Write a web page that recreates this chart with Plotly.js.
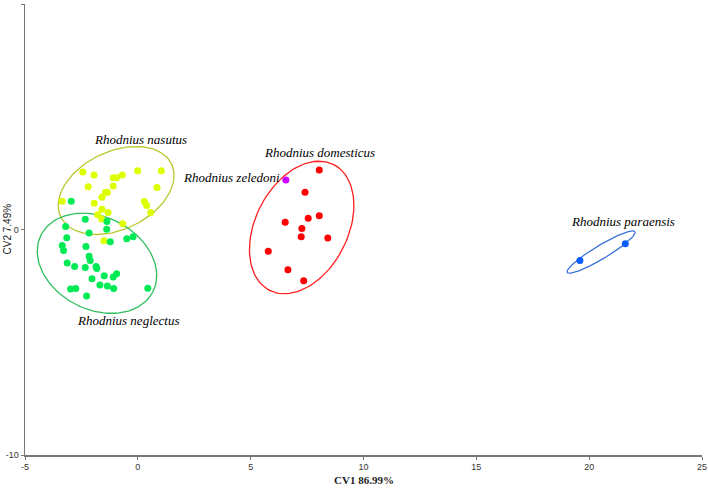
<!DOCTYPE html>
<html>
<head>
<meta charset="utf-8">
<script src="https://cdn.plot.ly/plotly-3.0.1.min.js"></script>
<style>html,body{margin:0;padding:0;background:#fff;}#chart{width:708px;height:488px;}</style>
</head>
<body>
<div id="chart"></div>
<script>
// ---- Data ----
const nasutusX = [-2.44,-1.94,-1.09,-0.94,-0.69,-0.01,1.04,-2.20,-1.09,0.85,-1.35,-1.44,-1.59,-3.35,-1.93,0.29,0.39,-1.59,-1.32,0.57,-1.78,-1.60,-0.67,-1.50];
const nasutusY = [2.55,2.42,2.29,2.29,2.42,2.60,2.60,1.90,1.93,1.86,1.65,1.64,1.43,1.25,1.16,1.24,1.06,0.90,0.75,0.75,0.65,0.47,0.25,-0.50];

const neglectusX = [-2.95,-2.33,-1.37,-3.20,-1.38,-2.16,-0.49,-0.21,-1.22,-3.15,-3.35,-3.29,-2.30,-2.16,-2.11,-3.13,-2.80,-2.33,-1.85,-1.82,-0.94,-1.09,-1.49,-2.03,-1.68,-1.35,-1.07,-2.98,-2.75,0.44,-2.27];
const neglectusY = [1.25,0.46,0.35,0.13,0.01,-0.16,-0.41,-0.32,-0.54,-0.37,-0.71,-0.93,-0.75,-1.19,-1.38,-1.49,-1.64,-1.68,-1.64,-1.73,-1.96,-2.11,-2.05,-2.18,-2.46,-2.51,-2.62,-2.64,-2.62,-2.60,-2.95];

const domesticusX = [8.04,7.41,6.53,7.55,8.04,7.27,7.24,8.42,5.78,6.65,7.35];
const domesticusY = [2.64,1.65,0.32,0.50,0.61,0.04,-0.32,-0.38,-0.96,-1.78,-2.27];

const zeledoniX = [6.56];
const zeledoniY = [2.20];

const paraensisX = [19.59,21.60];
const paraensisY = [-1.38,-0.63];

// Ellipses: nasutus, neglectus, domesticus, paraensis
const ellipseCx = [-0.96,-1.81,7.26,20.53];
const ellipseCy = [1.73,-1.50,0.09,-1.00];
const ellipseA = [2.72,2.78,3.13,1.75];
const ellipseB = [1.73,2.05,2.05,0.30];
const ellipseAngle = [25.5,-27,63,31];
const ellipseColors = ['#b9c62c','#2fbf5c','#ff1e1e','#3d74d9'];

// Labels
const labelText = ['Rhodnius nasutus','Rhodnius neglectus','Rhodnius domesticus','Rhodnius zeledoni','Rhodnius paraensis'];
const labelX = [0.10,-0.44,8.04,6.37,21.51];
const labelY = [3.98,-4.03,3.42,2.29,0.37];
const labelAnchor = ['center','center','center','right','center'];

const xTicks = [-5,0,5,10,15,20,25];
const yTicks = [-10,0,10];

// ---- Build traces ----
function ellipsePts(cx, cy, a, b, angDeg) {
  const t = angDeg * Math.PI / 180, xs = [], ys = [];
  for (let i = 0; i <= 120; i++) {
    const s = 2 * Math.PI * i / 120;
    const ex = a * Math.cos(s), ey = b * Math.sin(s);
    xs.push(cx + ex * Math.cos(t) - ey * Math.sin(t));
    ys.push(cy + ex * Math.sin(t) + ey * Math.cos(t));
  }
  return {x: xs, y: ys};
}

const traces = [];
for (let i = 0; i < ellipseCx.length; i++) {
  const e = ellipsePts(ellipseCx[i], ellipseCy[i], ellipseA[i], ellipseB[i], ellipseAngle[i]);
  traces.push({x: e.x, y: e.y, mode: 'lines', type: 'scatter', line: {color: ellipseColors[i], width: 1.3}, hoverinfo: 'skip'});
}
const mk = (x, y, c) => ({x: x, y: y, mode: 'markers', type: 'scatter', marker: {color: c, size: 7, line: {width: 0}}});
traces.push(mk(nasutusX, nasutusY, '#ddff00'));
traces.push(mk(neglectusX, neglectusY, '#00ea55'));
traces.push(mk(domesticusX, domesticusY, '#ff0000'));
traces.push(mk(zeledoniX, zeledoniY, '#cc00ff'));
traces.push(mk(paraensisX, paraensisY, '#0a5cff'));

const annotations = labelText.map((t, i) => ({
  text: '<i>' + t + '</i>', x: labelX[i], y: labelY[i], xref: 'x', yref: 'y', xanchor: labelAnchor[i], yanchor: 'middle',
  showarrow: false, font: {family: 'Liberation Serif, Times New Roman, serif', size: 13, color: '#000'}
}));
annotations.push({text: '<b>CV1 86.99%</b>', xref: 'paper', yref: 'paper', x: 0.5, y: 0, yshift: -25, xanchor: 'center', yanchor: 'middle', showarrow: false,
  borderpad: 0, font: {family: 'Liberation Serif, Times New Roman, serif', size: 11, color: '#222'}});
annotations.push({text: 'CV2 7.49%', xref: 'paper', yref: 'paper', x: 0, xshift: -18, y: 0.5, xanchor: 'center', yanchor: 'middle', textangle: -90, showarrow: false,
  borderpad: 0, font: {family: 'Liberation Sans, Arial, sans-serif', size: 10, color: '#222'}});

const layout = {
  width: 708, height: 488,
  margin: {l: 25, r: 6, t: 4, b: 33},
  paper_bgcolor: '#fff', plot_bgcolor: '#fff',
  showlegend: false,
  xaxis: {range: [-5, 25], tickvals: xTicks, ticktext: xTicks.map(String), showgrid: false, zeroline: false,
    showline: true, linecolor: '#777', linewidth: 1.5, ticks: 'outside', ticklen: 3, tickcolor: '#777',
    tickfont: {family: 'Liberation Sans, Arial, sans-serif', size: 9, color: '#333'}},
  yaxis: {range: [-10, 10], tickvals: yTicks, ticktext: yTicks.map(String), showgrid: false, zeroline: false,
    showline: true, linecolor: '#777', linewidth: 1.5, ticks: 'outside', ticklen: 3, tickcolor: '#777',
    tickfont: {family: 'Liberation Sans, Arial, sans-serif', size: 9, color: '#333'}},
  annotations: annotations
};

Plotly.newPlot('chart', traces, layout, {displayModeBar: false, staticPlot: true});
</script>
</body>
</html>
